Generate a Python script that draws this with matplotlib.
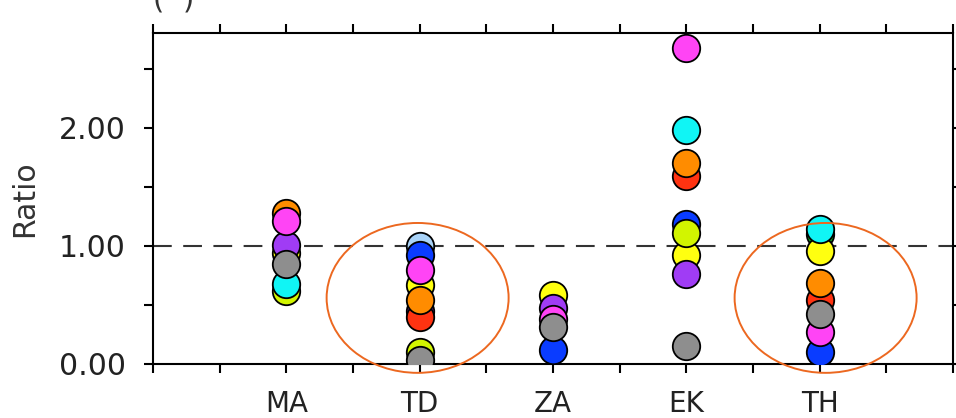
import numpy as np
import matplotlib.pyplot as plt
from matplotlib.patches import Ellipse

nan = np.nan

# categories and their x positions
categories = ['MA', 'TD', 'ZA', 'EK', 'TH']
cat_x = [2, 4, 6, 8, 10]

# ratio per model (one colour each), in the order MA, TD, ZA, EK, TH
red = [nan, 0.40, nan, 1.59, 0.54]
blue = [nan, 0.92, 0.12, 1.19, 0.10]
lightblue = [nan, 1.00, nan, nan, nan]
green = [nan, nan, nan, nan, 1.10]
yellow = [0.94, 0.67, 0.585, 0.925, 0.955]
yellowgreen = [0.62, 0.10, nan, 1.11, nan]
cyan = [0.68, nan, nan, 1.98, 1.14]
orange = [1.28, 0.54, nan, 1.70, 0.69]
purple = [1.01, 0.45, 0.475, 0.765, nan]
magenta = [1.21, 0.80, 0.38, 2.675, 0.27]
gray = [0.845, 0.03, 0.315, 0.15, 0.42]

# drawing order decides which circle sits on top
series = [
    (lightblue, '#A9D3F8'),
    (blue, '#0A3CFF'),
    (green, '#10B020'),
    (yellow, '#FFFF10'),
    (yellowgreen, '#D2F500'),
    (purple, '#A03CF5'),
    (red, '#FF3311'),
    (cyan, '#10F5F5'),
    (orange, '#FF8C00'),
    (magenta, '#FF44F5'),
    (gray, '#8E8E8E'),
]

plt.rcParams['font.family'] = ['DejaVu Sans']

fig = plt.figure(figsize=(9.56, 4.18), dpi=100)
ax = fig.add_axes([0.160, 0.1292, 0.8368, 0.7919])

# reference line at ratio = 1
ax.axhline(1.0, color='#333333', lw=1.5, ls=(0, (9, 5.5)), zorder=1)

for vals, col in series:
    ax.scatter(cat_x, vals, s=390, c=col, edgecolors='black', linewidths=1.3, zorder=3)

# highlight circles
for cx in (3.97, 10.09):
    ax.add_patch(Ellipse((cx, 0.56), 2.73, 1.27, fill=False, ec='#EC6820', lw=1.4,
                         clip_on=False, zorder=5))

ax.set_xlim(0, 12)
ax.set_ylim(0, 2.805)
ax.set_xticks(np.arange(0, 13))
ax.set_xticklabels(['' if i not in cat_x else categories[cat_x.index(i)] for i in range(13)])
ax.set_yticks([0, 1, 2])
ax.set_yticklabels(['0.00', '1.00', '2.00'])
ax.set_yticks([0.5, 1.5, 2.5], minor=True)

ax.tick_params(axis='both', which='both', direction='out', length=6.5, width=1.5,
               top=True, right=True, color='black')
ax.tick_params(axis='y', labelsize=21.5, pad=13, labelcolor='#222222')
ax.tick_params(axis='x', labelsize=20, pad=12, labelcolor='#222222')
for sp in ax.spines.values():
    sp.set_linewidth(1.5)

ax.set_ylabel('Ratio', fontsize=21.5, color='#333333', labelpad=14)

# panel label, cut off by the top edge
fig.text(0.1605, 1.0 - 9 / 418, '(  )', fontsize=21, color='#333333', va='baseline')

fig.savefig('out.png', dpi=100)
